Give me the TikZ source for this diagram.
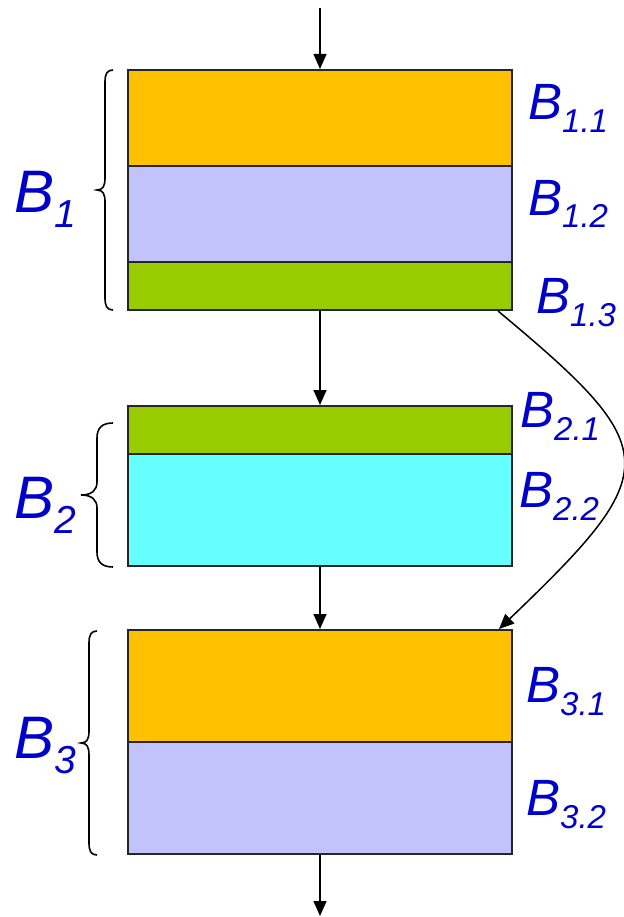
\documentclass[tikz,border=0pt]{standalone}
\usepackage{fontspec}
\setmainfont{Liberation Sans}
\usetikzlibrary{arrows.meta}
\definecolor{orangeC}{HTML}{FFC000}
\definecolor{lavC}{HTML}{C3C3FC}
\definecolor{greenC}{HTML}{99CC00}
\definecolor{cyanC}{HTML}{66FFFF}
\definecolor{txtC}{HTML}{0000CC}
\newcommand{\labR}[1]{{\fontsize{51}{51}\selectfont\itshape B\raisebox{-13pt}{\fontsize{33}{33}\selectfont #1}}}
\newcommand{\labL}[1]{{\fontsize{60}{60}\selectfont\itshape B\raisebox{-15pt}{\fontsize{39}{39}\selectfont #1}}}
\tikzset{
  blk/.style={draw=black!85, line width=2pt, inner sep=0pt, minimum width=384pt},
  arr/.style={draw=black, line width=1.5pt, -{Triangle[length=15pt,width=13pt]}},
  brc/.style={draw=black, line width=1.6pt},
  lab/.style={text=txtC, inner sep=0pt, anchor=base west}
}
\begin{document}
\begin{tikzpicture}[x=1pt,y=-1pt]
\useasboundingbox (0,0) rectangle (623,917);
% blocks
\node[blk, fill=orangeC, minimum height=96pt] (b11) at (320,118) {};
\node[blk, fill=lavC,    minimum height=96pt] (b12) at (320,214) {};
\node[blk, fill=greenC,  minimum height=48pt] (b13) at (320,286) {};
\node[blk, fill=greenC,  minimum height=48pt] (b21) at (320,430) {};
\node[blk, fill=cyanC,   minimum height=112pt] (b22) at (320,510) {};
\node[blk, fill=orangeC, minimum height=112pt] (b31) at (320,686) {};
\node[blk, fill=lavC,    minimum height=112pt] (b32) at (320,798) {};
% arrows
\coordinate (in) at (320,8);
\coordinate (out) at (320,916);
\draw[arr] (in) -- (b11.north);
\draw[arr] (b13.south) -- (b21.north);
\draw[arr] (b22.south) -- (b31.north);
\draw[arr] (b32.south) -- (out);
\draw[arr] ([xshift=-15pt]b13.south east) .. controls (665,450) and (665,470) .. ([xshift=-14pt]b31.north east);
% braces
\draw[brc] (113,70) .. controls (107,70) and (105,74) .. (105,82) -- (105,178) .. controls (105,186) and (103,190) .. (97,190) .. controls (103,190) and (105,194) .. (105,202) -- (105,298) .. controls (105,306) and (107,310) .. (113,310);
\draw[brc] (113,423) .. controls (102,423) and (97,428) .. (97,438) -- (97,482) .. controls (97,490) and (92,495) .. (81,495) .. controls (92,495) and (97,500) .. (97,508) -- (97,552) .. controls (97,562) and (102,567) .. (113,567);
\draw[brc] (97,631) .. controls (91,631) and (89,635) .. (89,643) -- (89,731) .. controls (89,739) and (87,743) .. (81,743) .. controls (87,743) and (89,747) .. (89,755) -- (89,843) .. controls (89,851) and (91,855) .. (97,855);
% left labels
\node[lab] (L1) at (14,213) {\labL{1}};
\node[lab] (L2) at (14,518) {\labL{2}};
\node[lab] (L3) at (14,758) {\labL{3}};
% right labels
\node[lab] (l11) at (528,120) {\labR{1.1}};
\node[lab] (l12) at (528,215) {\labR{1.2}};
\node[lab] (l13) at (536,313) {\labR{1.3}};
\node[lab] (l21) at (520,427) {\labR{2.1}};
\node[lab] (l22) at (519,507) {\labR{2.2}};
\node[lab] (l31) at (526,702) {\labR{3.1}};
\node[lab] (l32) at (526,815) {\labR{3.2}};
\end{tikzpicture}
\end{document}
